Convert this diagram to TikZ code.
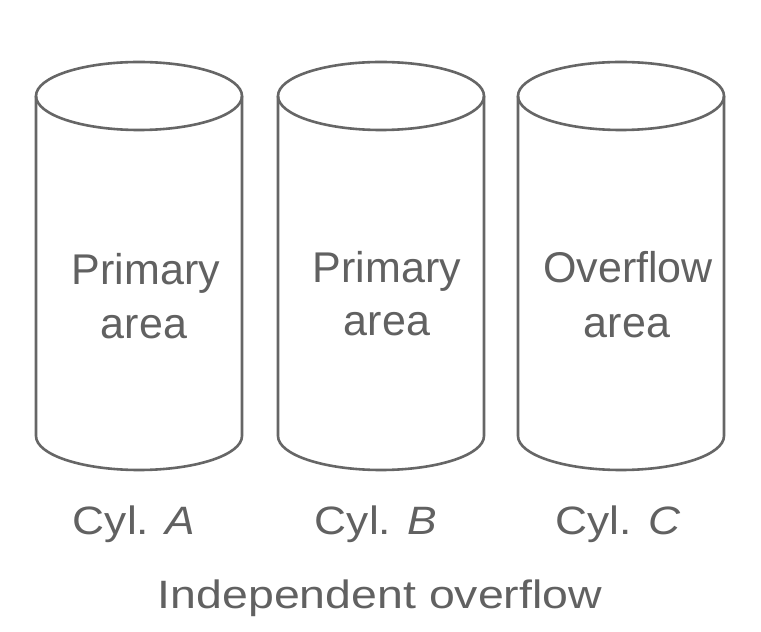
\documentclass[tikz,border=0pt]{standalone}
\usepackage{fontspec}
\setmainfont{Liberation Sans}
\begin{document}
\begin{tikzpicture}[x=1pt,y=1pt,
  cyl/.style={draw=black!60, line width=2.6pt},
  lbl/.style={text=black!62, font=\fontsize{43}{48}\selectfont, inner sep=0pt, anchor=base}]
\useasboundingbox[fill=white] (0,0) rectangle (761,632);
% cylinders
\foreach \cx/\nm in {139/A,381/B,621/C}{
  \draw[cyl] (\cx,536) ellipse (103pt and 34pt);
  \draw[cyl] (\cx-103,536) -- (\cx-103,196) arc (180:360:103pt and 34pt) -- (\cx+103,536);
}
\node[lbl] (pa) at (146,347) {Primary};
\node[lbl] (aa) at (144,293) {area};
\node[lbl] (pb) at (387,349) {Primary};
\node[lbl] (ab) at (387,296) {area};
\node[lbl] (oc) at (628,349) {Overflow};
\node[lbl] (ac) at (627,294) {area};
\node[lbl] (ca) at (134,97) {\scalebox{1.03}[0.92]{Cyl. \textit{A}}};
\node[lbl] (cb) at (376,97) {\scalebox{1.03}[0.92]{Cyl. \textit{B}}};
\node[lbl] (cc) at (618,97) {\scalebox{1.03}[0.92]{Cyl. \textit{C}}};
\node[lbl] (io) at (380,23) {\scalebox{1.08}[0.92]{Independent overflow}};
\end{tikzpicture}
\end{document}
